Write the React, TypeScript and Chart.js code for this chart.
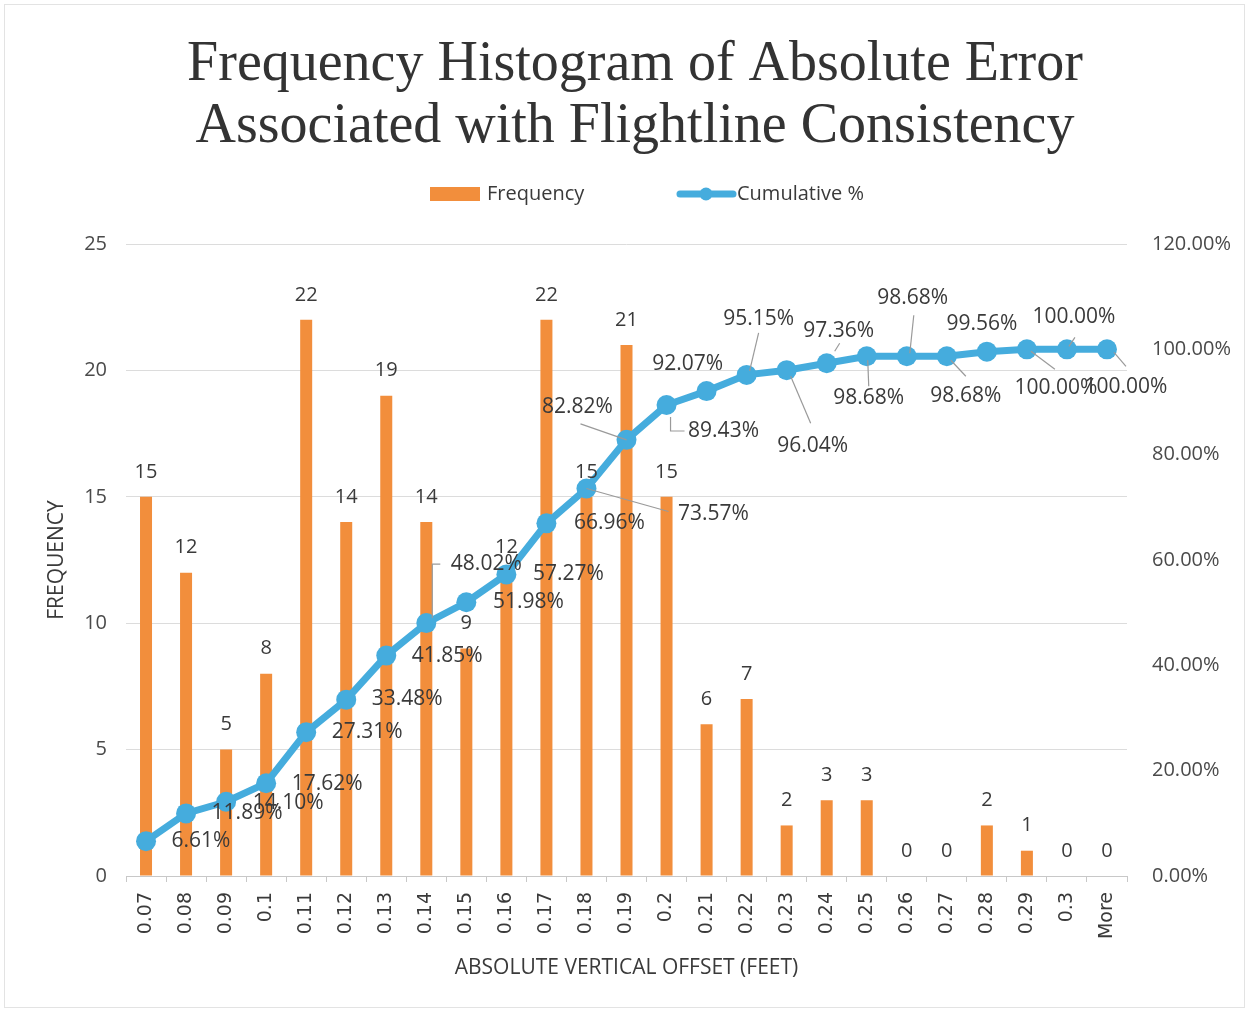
import React, { useEffect, useRef } from 'react';
import { Chart, registerables } from 'chart.js';

Chart.register(...registerables);

// ---------- data ----------
const categories = [
  '0.07', '0.08', '0.09', '0.1', '0.11', '0.12', '0.13', '0.14', '0.15', '0.16',
  '0.17', '0.18', '0.19', '0.2', '0.21', '0.22', '0.23', '0.24', '0.25', '0.26',
  '0.27', '0.28', '0.29', '0.3', 'More',
];
const frequency = [15, 12, 5, 8, 22, 14, 19, 14, 9, 12, 22, 15, 21, 15, 6, 7, 2, 3, 3, 0, 0, 2, 1, 0, 0];
const cumulativePct = [
  6.61, 11.89, 14.10, 17.62, 27.31, 33.48, 41.85, 48.02, 51.98, 57.27,
  66.96, 73.57, 82.82, 89.43, 92.07, 95.15, 96.04, 97.36, 98.68, 98.68,
  98.68, 99.56, 100.0, 100.0, 100.0,
];
const titleLines = ['Frequency Histogram of Absolute Error', 'Associated with Flightline Consistency'];
const seriesNames = ['Frequency', 'Cumulative %'];
const xAxisTitle = 'ABSOLUTE VERTICAL OFFSET (FEET)';
const yAxisTitle = 'FREQUENCY';
const freqAxis = { min: 0, max: 25, step: 5 };
const pctAxis = { min: 0, max: 120, step: 20 };

// ---------- styling (label placement relative to each point) ----------
type LabelPos = { dx: number; dy: number; leader?: [number, number][] };
const pctLabelLayout: LabelPos[] = [
  { dx: 55, dy: 0 },
  { dx: 61, dy: 0 },
  { dx: 62, dy: 1 },
  { dx: 61, dy: 1 },
  { dx: 61, dy: 0 },
  { dx: 61, dy: -1 },
  { dx: 61, dy: 0 },
  { dx: 60, dy: -59, leader: [[6, -5], [6, -59], [14, -59]] },
  { dx: 62, dy: 0 },
  { dx: 62, dy: 0 },
  { dx: 63, dy: 0 },
  { dx: 127, dy: 25, leader: [[0, 0], [82, 23]] },
  { dx: -49, dy: -33, leader: [[0, 0], [-46, -16]] },
  { dx: 57, dy: 26, leader: [[4, 12], [4, 26], [18, 26]] },
  { dx: -19, dy: -27 },
  { dx: 12, dy: -56, leader: [[3, -4], [12, -42]] },
  { dx: 26, dy: 76, leader: [[4, 6], [24, 53]] },
  { dx: 12, dy: -32, leader: [[8, -12], [13, -20]] },
  { dx: 2, dy: 42, leader: [[1, 4], [2, 30]] },
  { dx: 6, dy: -58, leader: [[7, -41], [3, -3]] },
  { dx: 19, dy: 40, leader: [[4, 4], [19, 20]] },
  { dx: -5, dy: -28 },
  { dx: 29, dy: 39, leader: [[4, 2], [28, 20]] },
  { dx: 7, dy: -32, leader: [[2, -3], [8, -12]] },
  { dx: 19, dy: 38, leader: [[7, 3], [19, 17]] },
];

const ORANGE = '#F28E3C';
const BLUE = '#45ACDD';
const TEXT = '#3a3a3a';
const LABEL_FONT = '"Open Sans", "Noto Sans", sans-serif';

const decorations = {
  id: 'decorations',
  beforeDraw(chart: any) {
    const { ctx, width, height } = chart;
    ctx.save();
    ctx.fillStyle = '#ffffff';
    ctx.fillRect(0, 0, width, height);
    ctx.strokeStyle = '#e3e3e3';
    ctx.lineWidth = 1;
    ctx.strokeRect(4.5, 4.5, width - 9, height - 9);
    ctx.restore();
  },
  afterDraw(chart: any) {
    const { ctx } = chart;
    ctx.save();
    // title
    ctx.fillStyle = '#333333';
    ctx.font = '56px "Liberation Serif", serif';
    ctx.textAlign = 'center';
    ctx.textBaseline = 'alphabetic';
    ctx.fillText(titleLines[0], 635, 80);
    ctx.fillText(titleLines[1], 635, 142);

    // legend
    ctx.font = `20px ${LABEL_FONT}`;
    ctx.textAlign = 'left';
    ctx.textBaseline = 'middle';
    ctx.fillStyle = ORANGE;
    ctx.fillRect(430, 187, 50, 14);
    ctx.fillStyle = TEXT;
    ctx.fillText(seriesNames[0], 487, 194);
    ctx.strokeStyle = BLUE;
    ctx.lineWidth = 7;
    ctx.lineCap = 'round';
    ctx.beginPath();
    ctx.moveTo(680, 194);
    ctx.lineTo(733, 194);
    ctx.stroke();
    ctx.fillStyle = BLUE;
    ctx.beginPath();
    ctx.arc(706, 194, 6.5, 0, Math.PI * 2);
    ctx.fill();
    ctx.fillStyle = TEXT;
    ctx.fillText(seriesNames[1], 737, 194);

    // bar value labels
    const barMeta = chart.getDatasetMeta(0);
    ctx.font = `20px ${LABEL_FONT}`;
    ctx.textAlign = 'center';
    ctx.textBaseline = 'middle';
    ctx.fillStyle = TEXT;
    barMeta.data.forEach((el: any, i: number) => {
      ctx.fillText(String(frequency[i]), el.x, el.y - 25);
    });

    // cumulative labels with leader lines
    const lineMeta = chart.getDatasetMeta(1);
    ctx.strokeStyle = '#9a9a9a';
    ctx.lineWidth = 1.2;
    ctx.lineCap = 'butt';
    lineMeta.data.forEach((pt: any, i: number) => {
      const lay = pctLabelLayout[i];
      if (lay && lay.leader) {
        ctx.beginPath();
        lay.leader.forEach(([lx, ly], k) => {
          if (k === 0) ctx.moveTo(pt.x + lx, pt.y + ly);
          else ctx.lineTo(pt.x + lx, pt.y + ly);
        });
        ctx.stroke();
      }
    });
    ctx.font = `21px ${LABEL_FONT}`;
    ctx.fillStyle = TEXT;
    lineMeta.data.forEach((pt: any, i: number) => {
      const lay = pctLabelLayout[i] || { dx: 60, dy: 0 };
      ctx.fillText(cumulativePct[i].toFixed(2) + '%', pt.x + lay.dx, pt.y + lay.dy);
    });
    ctx.restore();
  },
};

export default function App() {
  const canvasRef = useRef<HTMLCanvasElement | null>(null);

  useEffect(() => {
    if (!canvasRef.current) return;
    const chart = new Chart(canvasRef.current, {
      type: 'bar',
      data: {
        labels: categories,
        datasets: [
          {
            type: 'bar',
            label: seriesNames[0],
            data: frequency,
            backgroundColor: ORANGE,
            yAxisID: 'y',
            order: 2,
            barPercentage: 0.3,
            categoryPercentage: 1,
          },
          {
            type: 'line',
            label: seriesNames[1],
            data: cumulativePct,
            borderColor: BLUE,
            backgroundColor: BLUE,
            borderWidth: 7,
            pointRadius: 10,
            pointBorderWidth: 0,
            pointBackgroundColor: BLUE,
            tension: 0,
            yAxisID: 'y1',
            order: 1,
          },
        ],
      } as any,
      options: {
        responsive: false,
        animation: false,
        layout: { padding: { top: 244, left: 0, right: 0, bottom: 0 } },
        plugins: {
          legend: { display: false },
          title: { display: false },
          tooltip: { enabled: false },
        },
        scales: {
          x: {
            grid: {
              display: true,
              drawOnChartArea: false,
              drawTicks: true,
              tickLength: 6,
              color: '#c8c8c8',
              offset: true,
            },
            border: { display: true, color: '#c8c8c8' },
            ticks: {
              autoSkip: false,
              maxRotation: 90,
              minRotation: 90,
              padding: 10,
              color: TEXT,
              font: { family: '"DejaVu Sans", sans-serif', size: 19 },
            },
            title: {
              display: true,
              text: xAxisTitle,
              color: TEXT,
              font: { family: LABEL_FONT, size: 21, lineHeight: 1.2 },
              padding: { top: 0, bottom: 31 },
            },
            afterFit: (s: any) => {
              s.height = 136;
            },
          },
          y: {
            position: 'left',
            min: freqAxis.min,
            max: freqAxis.max,
            ticks: {
              stepSize: freqAxis.step,
              color: '#4a4a4a',
              padding: 19,
              font: { family: LABEL_FONT, size: 20 },
            },
            grid: { color: '#dcdcdc', drawTicks: false, lineWidth: 1 },
            border: { display: false },
            title: {
              display: true,
              text: yAxisTitle,
              color: TEXT,
              font: { family: LABEL_FONT, size: 21, lineHeight: 1.2 },
              padding: { top: 44, bottom: 0 },
            },
            afterFit: (s: any) => {
              s.width = 126;
            },
          },
          y1: {
            position: 'right',
            min: pctAxis.min,
            max: pctAxis.max,
            ticks: {
              stepSize: pctAxis.step,
              color: '#4a4a4a',
              padding: 25,
              font: { family: LABEL_FONT, size: 20 },
              callback: (v: any) => Number(v).toFixed(2) + '%',
            },
            grid: { display: false, drawTicks: false },
            border: { display: false },
            afterFit: (s: any) => {
              s.width = 122;
            },
          },
        },
      } as any,
      plugins: [decorations],
    });
    return () => chart.destroy();
  }, []);

  return (
    <div style={{ position: 'absolute', left: 0, top: 0, width: 1249, height: 1012 }}>
      <canvas ref={canvasRef} width={1249} height={1012} style={{ display: 'block', width: 1249, height: 1012 }} />
    </div>
  );
}
